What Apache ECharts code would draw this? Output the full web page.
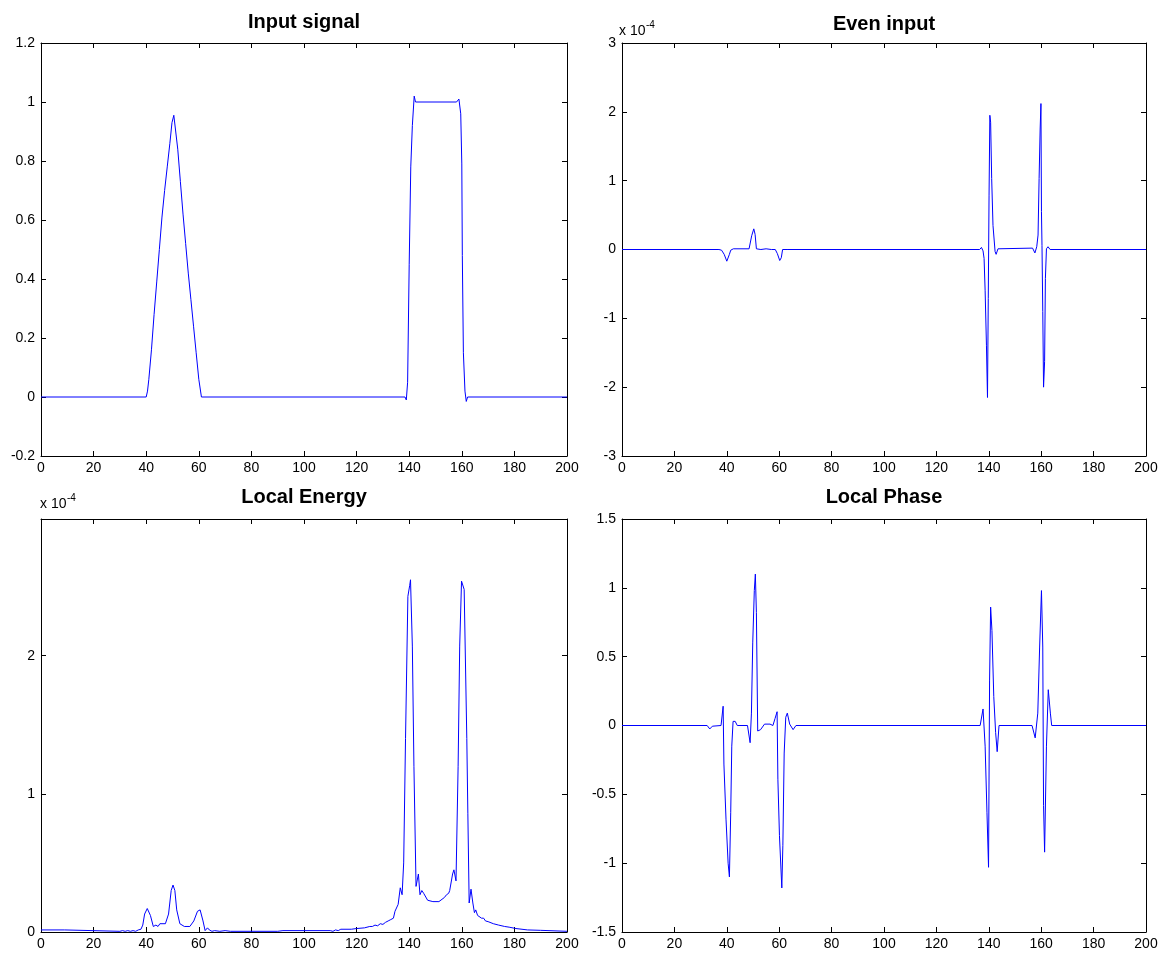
<!DOCTYPE html>
<html><head><meta charset="utf-8">
<script src="https://cdn.jsdelivr.net/npm/echarts@6/dist/echarts.min.js"></script>
<style>html,body{margin:0;padding:0;background:#fff}#c{width:1172px;height:955px}</style>
</head><body><div id="c"></div><script>
// ---- data (x, value) ----
const titles = ['Input signal', 'Even input', 'Local Energy', 'Local Phase'];
const xRange = [0, 200, 20];
const yRanges = [[-0.2, 1.2, 0.2], [-3, 3, 1], [0, 2.99, 1], [-1.5, 1.5, 0.5]];

const inputSignal = [[0,0],[40,0],[40.5,0.02],[41,0.06],[42,0.16],[43,0.28],[44,0.39],[45,0.5],[46,0.61],[47,0.7],[48,0.78],[49,0.86],[49.8,0.93],[50.5,0.955],[51,0.96],[52,0.84],[53,0.73],[54,0.62],[55,0.52],[56,0.42],[57,0.33],[58,0.24],[59,0.15],[60,0.06],[61,0],[138.4,0],[138.9,-0.01],[139.4,0.05],[140,0.45],[140.6,0.78],[141.2,0.92],[141.9,1.02],[142.4,1.0],[143,1.0],[158,1.0],[158.9,1.01],[159.6,0.96],[160,0.79],[160.2,0.48],[160.6,0.15],[161.2,0.02],[161.7,-0.015],[162.2,0],[200,0]];

// Even input, in units of 1e-4
const evenInput = [[0,0],[37,0],[38,-0.01],[39,-0.07],[40,-0.17],[41,-0.07],[41.5,-0.01],[42.5,0.01],[48.5,0.01],[49,0.02],[49.5,0.2],[50.3,0.3],[50.8,0.22],[51.3,0.01],[53,0],[55,0.01],[57,0],[58.5,0],[59.3,-0.06],[60.2,-0.16],[60.8,-0.12],[61.3,0],[62,0.01],[63,0],[136.5,0],[137.2,0.03],[137.8,-0.02],[138.2,-0.13],[138.6,-0.6],[139.1,-1.39],[139.5,-2.15],[139.8,-0.71],[140.1,0.79],[140.4,1.95],[140.7,1.85],[141.1,1.03],[141.6,0.35],[142.4,-0.03],[142.8,-0.07],[143.5,0.01],[156.7,0.02],[157.6,-0.05],[158.3,0.04],[158.8,0.21],[159.2,1.03],[159.6,1.75],[159.9,2.12],[160.1,0.55],[160.3,0.06],[160.6,-0.9],[160.9,-2.0],[161.3,-1.63],[161.6,-0.42],[162,0.01],[162.6,0.04],[163.4,0],[200,0]];

// Local energy, in units of 1e-4
const localEnergy = [[0,0.015],[9,0.015],[9.5,0.005],[30,0.005],[31,0.01],[32,0.005],[33,0.01],[34,0.005],[35,0.01],[36,0.005],[37,0.015],[38,0.02],[38.7,0.05],[39.4,0.13],[40.4,0.17],[41.6,0.12],[42.7,0.04],[43.7,0.05],[44.5,0.04],[45.2,0.06],[47.3,0.06],[48.5,0.13],[49.5,0.3],[50.2,0.34],[50.9,0.3],[51.6,0.16],[52.8,0.06],[54.5,0.04],[56.6,0.04],[58.1,0.08],[59.5,0.15],[60.5,0.16],[61.6,0.08],[62.4,0.01],[63.3,0.03],[64,0.015],[65,0.005],[66,0.01],[68,0.005],[70,0.01],[72,0.005],[90,0.005],[92,0.01],[110,0.01],[111,0.005],[112,0.015],[113,0.01],[114,0.02],[118,0.02],[120,0.025],[123,0.03],[125,0.04],[126,0.04],[127,0.05],[128,0.045],[129,0.06],[130,0.055],[131,0.07],[132,0.08],[133,0.09],[134,0.1],[134.6,0.15],[135.2,0.14],[135.8,0.2],[136.2,0.19],[136.6,0.32],[137.3,0.27],[137.9,0.5],[138.6,1.4],[139.5,2.43],[140.2,2.51],[140.5,2.55],[141.2,2.07],[141.8,1.2],[142.6,0.33],[143.5,0.42],[144.1,0.27],[144.8,0.3],[145.5,0.28],[146.2,0.28],[147,0.23],[149,0.22],[151.3,0.22],[153.4,0.25],[154.2,0.27],[155,0.28],[155.4,0.3],[155.9,0.29],[156.5,0.42],[157,0.45],[157.8,0.37],[158.6,1.2],[159.2,2.07],[159.9,2.54],[160.9,2.48],[161.9,1.4],[162.3,0.86],[162.8,0.21],[163.5,0.31],[164.2,0.21],[164.8,0.14],[165.3,0.16],[166,0.12],[166.6,0.13],[167.5,0.1],[168.3,0.1],[169,0.08],[170,0.075],[172,0.06],[174,0.05],[176.3,0.04],[178,0.035],[180.6,0.025],[185,0.015],[190,0.012],[190.7,0.005],[200,0.005]];

const localPhase = [[0,0],[32.5,0],[33.5,-0.025],[34.5,-0.005],[37.8,0],[38.6,0.14],[38.9,-0.28],[39.7,-0.68],[40.5,-1.0],[41,-1.1],[41.5,-0.63],[41.9,-0.15],[42.4,0.03],[43.2,0.03],[44,0],[47.9,0],[48.9,-0.125],[49.4,0.09],[49.9,0.6],[50.5,0.98],[50.9,1.1],[51.3,0.82],[51.8,-0.04],[52.9,-0.03],[54.4,0.01],[56.5,0.01],[57.6,0],[58.4,0.05],[59.2,0.1],[59.5,-0.39],[60.1,-0.8],[61,-1.18],[61.4,-0.87],[61.9,-0.2],[62.5,0.06],[63.1,0.09],[64,0.01],[65.3,-0.03],[66.4,0],[136.7,0],[137.8,0.12],[138.6,-0.15],[139.3,-0.63],[139.9,-1.03],[140.3,0.33],[140.7,0.86],[141.2,0.69],[141.9,0.21],[142.6,-0.05],[143.2,-0.19],[143.9,0],[156.5,0],[157.7,-0.09],[158.7,0.09],[159.4,0.57],[160.1,0.98],[160.6,0.57],[160.9,-0.58],[161.3,-0.92],[162,-0.15],[162.7,0.26],[163.5,0.09],[164,0],[200,0]];

const seriesData = [inputSignal, evenInput, localEnergy, localPhase];

// ---- layout ----
const FONT = '"Liberation Sans", Arial, Helvetica, sans-serif';
const grids = [
  {left:41, top:43, width:526, height:413},
  {left:622, top:43, width:524, height:413},
  {left:41, top:519, width:526, height:413},
  {left:622, top:519, width:524, height:413}
];
const axisLine = {show:true, onZero:false, lineStyle:{color:'#000', width:1}};
const tick = {show:true, inside:true, length:5, lineStyle:{color:'#000', width:1}};
const xAxis = [], yAxis = [], series = [];
grids.forEach((g, i) => {
  const [ymin, ymax, yint] = yRanges[i];
  xAxis.push({gridIndex:i, type:'value', position:'bottom', min:xRange[0], max:xRange[1], interval:xRange[2],
    axisLine, axisTick:tick, splitLine:{show:false},
    axisLabel:{show:true, color:'#000', fontSize:14, fontFamily:FONT, margin:5, showMinLabel:true, showMaxLabel:true}});
  xAxis.push({gridIndex:i, type:'value', position:'top', min:xRange[0], max:xRange[1], interval:xRange[2],
    axisLine, axisTick:tick, splitLine:{show:false}, axisLabel:{show:false}});
  yAxis.push({gridIndex:i, type:'value', position:'left', min:ymin, max:ymax, interval:yint,
    axisLine, axisTick:tick, splitLine:{show:false},
    axisLabel:{show:true, color:'#000', fontSize:14, fontFamily:FONT, margin:6, showMinLabel:true, showMaxLabel: i !== 2}});
  yAxis.push({gridIndex:i, type:'value', position:'right', min:ymin, max:ymax, interval:yint,
    axisLine, axisTick:tick, splitLine:{show:false}, axisLabel:{show:false}});
  series.push({type:'line', xAxisIndex:2*i, yAxisIndex:2*i, data:seriesData[i], showSymbol:false, symbol:'none',
    lineStyle:{color:'#0000ff', width:1}, itemStyle:{color:'#0000ff'}, silent:true, animation:false, clip:true});
});

const titlePos = [[304, 22], [884, 24], [304, 497], [884, 497]];
const graphic = titles.map((t, i) => ({
  type:'text', x:titlePos[i][0], y:titlePos[i][1], silent:true,
  style:{text:t, fill:'#000', fontSize:20, fontWeight:'bold', fontFamily:FONT, align:'center', verticalAlign:'middle'}
}));
// exponent labels (x 10^-4)
[[619, 31], [40, 504]].forEach(([x, y]) => {
  graphic.push({type:'text', x:x, y:y, silent:true,
    style:{text:'x 10', fill:'#000', fontSize:14, fontFamily:FONT, align:'left', verticalAlign:'middle'}});
  graphic.push({type:'text', x:x + 27, y:y - 6, silent:true,
    style:{text:'-4', fill:'#000', fontSize:10, fontFamily:FONT, align:'left', verticalAlign:'middle'}});
});

const chart = echarts.init(document.getElementById('c'), null, {renderer:'canvas'});
chart.setOption({animation:false, backgroundColor:'#fff', grid:grids, xAxis, yAxis, series, graphic});
</script></body></html>
